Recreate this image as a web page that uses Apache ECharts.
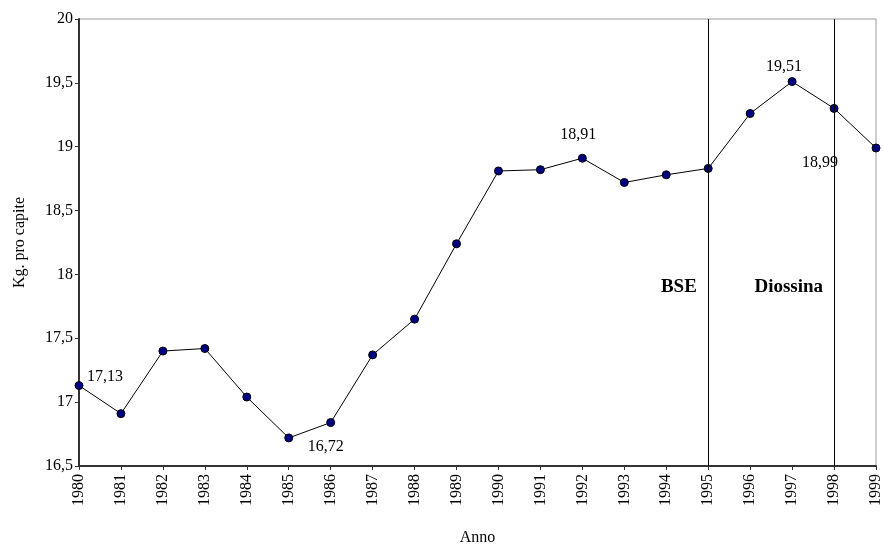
<!DOCTYPE html>
<html>
<head>
<meta charset="utf-8">
<script src="https://cdn.jsdelivr.net/npm/echarts@6/dist/echarts.min.js"></script>
<style>
  html, body { margin: 0; padding: 0; background: #fff; }
  #chart { width: 884px; height: 551px; }
</style>
</head>
<body>
<div id="chart"></div>
<script>
// Consumo pro capite (kg) per anno
const years = [1980, 1981, 1982, 1983, 1984, 1985, 1986, 1987, 1988, 1989,
               1990, 1991, 1992, 1993, 1994, 1995, 1996, 1997, 1998, 1999];
const consumo = [17.13, 16.91, 17.40, 17.42, 17.04, 16.72, 16.84, 17.37, 17.65, 18.24,
                 18.81, 18.82, 18.91, 18.72, 18.78, 18.83, 19.26, 19.51, 19.30, 18.99];
// Eventi segnati con una linea verticale
const eventYears = [1995, 1998];
const eventNames = ['BSE', 'Diossina'];
// Anni di cui si mostra il valore
const labelledYears = [1980, 1985, 1992, 1997, 1999];
const yTicks = [16.5, 17, 17.5, 18, 18.5, 19, 19.5, 20];

const FONT = '"Liberation Serif", "Times New Roman", serif';
const fmt = v => String(v).replace('.', ',');

// label offsets (pixels) for the annotated points
const labelOffsets = {
  1980: [26, -9],
  1985: [37, 9],
  1992: [-4, -23],
  1997: [-8, -15],
  1999: [-56, 15]
};

const seriesData = years.map((y, i) => {
  const item = { value: [y, consumo[i]] };
  if (labelledYears.includes(y)) {
    item.label = {
      show: true,
      position: 'inside',
      offset: labelOffsets[y],
      formatter: p => p.value[1].toFixed(2).replace('.', ','),
      color: '#000',
      fontFamily: FONT,
      fontSize: 16
    };
  }
  return item;
});

const chart = echarts.init(document.getElementById('chart'), null, { renderer: 'canvas' });
chart.setOption({
  animation: false,
  backgroundColor: '#fff',
  grid: {
    left: 79, right: 4, top: 19, bottom: 80,
    show: true, borderColor: '#9a9a9a', borderWidth: 1, backgroundColor: 'transparent'
  },
  xAxis: {
    type: 'value',
    min: years[0], max: years[years.length - 1], interval: 1,
    name: 'Anno', nameLocation: 'middle', nameGap: 64,
    nameTextStyle: { fontFamily: FONT, fontSize: 16, color: '#000' },
    axisLine: { show: true, onZero: false, lineStyle: { color: '#333', width: 2 } },
    axisTick: { show: true, length: 4, lineStyle: { color: '#333', width: 1 } },
    axisLabel: { rotate: 90, margin: 8, fontFamily: FONT, fontSize: 16, color: '#000',
                 formatter: v => String(v) },
    splitLine: { show: false }
  },
  yAxis: {
    type: 'value',
    min: yTicks[0], max: yTicks[yTicks.length - 1], interval: 0.5,
    name: 'Kg. pro capite', nameLocation: 'middle', nameGap: 51,
    nameTextStyle: { fontFamily: FONT, fontSize: 16, color: '#000' },
    axisLine: { show: true, lineStyle: { color: '#333', width: 2 } },
    axisTick: { show: true, length: 4, lineStyle: { color: '#333', width: 1 } },
    axisLabel: { margin: 6, fontFamily: FONT, fontSize: 16, color: '#000', formatter: fmt },
    splitLine: { show: false }
  },
  series: [{
    type: 'line',
    data: seriesData,
    symbol: 'circle',
    symbolSize: 8,
    lineStyle: { color: '#000', width: 1 },
    itemStyle: { color: '#000080', borderColor: '#000', borderWidth: 1 },
    label: { show: false },
    markLine: {
      silent: true,
      symbol: 'none',
      label: { show: false },
      lineStyle: { color: '#000', width: 1, type: 'solid' },
      data: eventYears.map(y => ({ xAxis: y }))
    },
    markPoint: {
      silent: true,
      symbol: 'rect',
      symbolSize: 1,
      itemStyle: { color: 'rgba(0,0,0,0)' },
      label: { show: true, position: 'inside', color: '#000', fontFamily: FONT,
               fontSize: 19, fontWeight: 'bold', formatter: p => p.name },
      data: [
        { name: eventNames[0], coord: [1994.3, 17.9] },
        { name: eventNames[1], coord: [1996.92, 17.9] }
      ]
    }
  }]
});
</script>
</body>
</html>
